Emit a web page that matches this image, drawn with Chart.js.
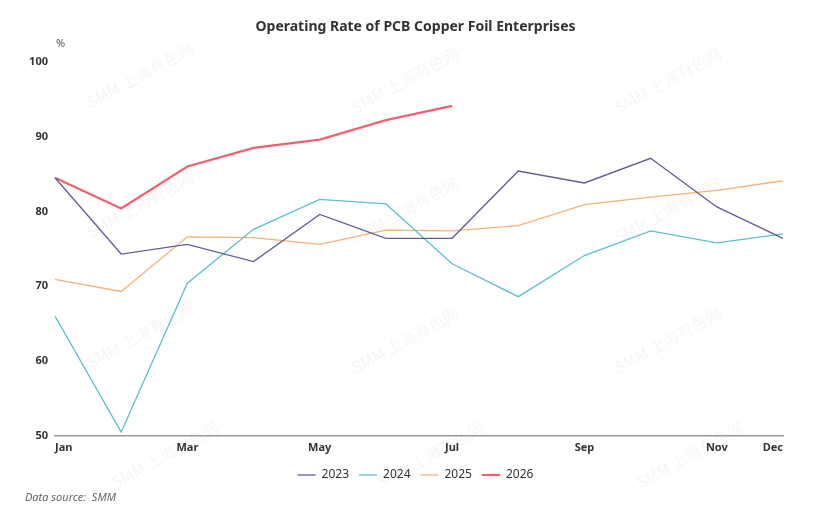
<!DOCTYPE html>
<html>
<head>
<meta charset="utf-8">
<script src="https://cdn.jsdelivr.net/npm/chart.js@4/dist/chart.umd.min.js"></script>
<style>
html,body{margin:0;padding:0;background:#fff;}
#wrap{position:relative;width:831px;height:522px;}
</style>
</head>
<body>
<div id="wrap"><canvas id="c" width="831" height="522"></canvas></div>
<script>
const months = ['Jan','Feb','Mar','Apr','May','Jun','Jul','Aug','Sep','Oct','Nov','Dec'];
const shownMonths = ['Jan','Mar','May','Jul','Sep','Nov','Dec'];
const s2023 = [84.5, 74.3, 75.6, 73.3, 79.6, 76.4, 76.4, 85.4, 83.8, 87.1, 80.6, 76.4];
const s2024 = [66.0, 50.5, 70.4, 77.6, 81.6, 81.0, 73.0, 68.6, 74.1, 77.4, 75.8, 77.0];
const s2025 = [70.9, 69.3, 76.6, 76.5, 75.6, 77.5, 77.4, 78.1, 80.9, 81.9, 82.8, 84.1];
const s2026 = [84.5, 80.4, 86.0, 88.5, 89.6, 92.2, 94.1];
const yTicks = [50, 60, 70, 80, 90, 100];

const extraText = {
  id: 'extraText',
  beforeDraw(chart) {
    const ctx = chart.ctx;
    ctx.save();
    ctx.fillStyle = '#fff';
    ctx.fillRect(0, 0, chart.width, chart.height);
    ctx.font = '16px "Noto Sans CJK SC", "Noto Sans", sans-serif';
    ctx.fillStyle = 'rgba(0,0,0,0.045)';
    ctx.textAlign = 'center';
    ctx.textBaseline = 'middle';
    const marks = [[140,75],[405,80],[668,80],[140,205],[405,210],[668,210],[140,335],[405,340],[668,340],[165,455],[430,455],[690,455]];
    marks.forEach(([x,y]) => {
      ctx.save();
      ctx.translate(x, y);
      ctx.rotate(-0.5);
      ctx.fillText('SMM 上海有色网', 0, 0);
      ctx.restore();
    });
    ctx.restore();
  },
  afterDraw(chart) {
    const ctx = chart.ctx;
    ctx.save();
    ctx.fillStyle = '#555';
    ctx.font = '11px "Noto Sans", sans-serif';
    ctx.textAlign = 'left';
    ctx.textBaseline = 'middle';
    ctx.fillText('%', 56, 44);
    ctx.fillStyle = '#666';
    ctx.font = 'italic 11px "Noto Sans", sans-serif';
    ctx.fillText('Data source:  SMM', 25, 498);
    ctx.restore();
  }
};

new Chart(document.getElementById('c'), {
  type: 'line',
  data: {
    labels: months,
    datasets: [
      {label: '2023', data: s2023, borderColor: '#5e5f95', backgroundColor: '#5e5f95', borderWidth: 1.3},
      {label: '2024', data: s2024, borderColor: '#5ebfcf', backgroundColor: '#5ebfcf', borderWidth: 1.3},
      {label: '2025', data: s2025, borderColor: '#f4b273', backgroundColor: '#f4b273', borderWidth: 1.3},
      {label: '2026', data: s2026, borderColor: '#f0606e', backgroundColor: '#f0606e', borderWidth: 2.2}
    ]
  },
  options: {
    responsive: false,
    animation: false,
    devicePixelRatio: 1,
    elements: {point: {radius: 0, hoverRadius: 0}, line: {tension: 0}},
    layout: {padding: {left: 0, right: 0, top: 0, bottom: 31}},
    plugins: {
      title: {
        display: true,
        text: 'Operating Rate of PCB Copper Foil Enterprises',
        color: '#333',
        font: {family: '"Noto Sans", sans-serif', size: 14, weight: 'bold'},
        padding: {top: 19, bottom: 26}
      },
      legend: {
        position: 'bottom',
        labels: {
          usePointStyle: true,
          pointStyle: 'line',
          pointStyleWidth: 18,
          boxHeight: 12,
          padding: 10,
          color: '#333',
          font: {family: '"Noto Sans", sans-serif', size: 12}
        }
      },
      tooltip: {enabled: false}
    },
    scales: {
      x: {
        offset: false,
        grid: {display: false, drawTicks: false},
        border: {display: true, color: '#999', width: 1.5},
        ticks: {
          autoSkip: false,
          maxRotation: 0,
          align: 'inner',
          padding: 5,
          color: '#333',
          font: {family: '"Noto Sans", sans-serif', size: 11, weight: 'bold'},
          callback: function(v, i) { const m = months[i]; return shownMonths.includes(m) ? m : ''; }
        }
      },
      y: {
        min: 50, max: 100,
        afterFit(scale) { scale.width = 55; },
        afterBuildTicks(scale) { scale.ticks = yTicks.map(v => ({value: v})); },
        grid: {display: false, drawTicks: false},
        border: {display: false},
        ticks: {
          padding: 7,
          color: '#333',
          font: {family: '"Noto Sans", sans-serif', size: 11, weight: 'bold'}
        }
      },
      yRight: {
        position: 'right',
        display: true,
        min: 50, max: 100,
        afterFit(scale) { scale.width = 48; },
        grid: {display: false, drawTicks: false},
        border: {display: false},
        ticks: {display: false}
      }
    }
  },
  plugins: [extraText]
});
</script>
</body>
</html>
